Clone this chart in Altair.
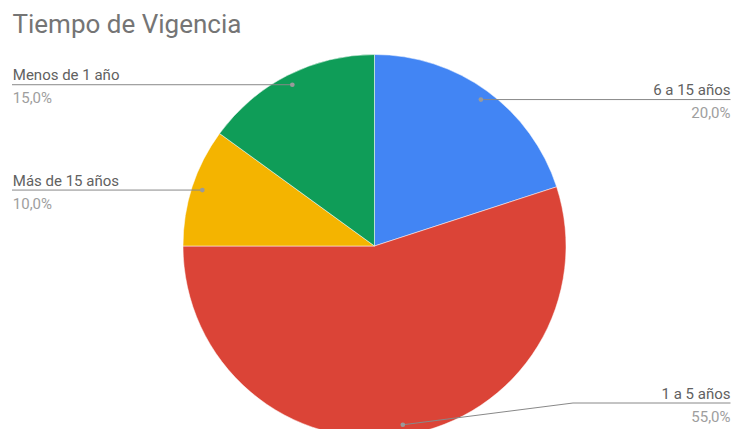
import altair as alt
import pandas as pd
import numpy as np

# ---- data ----
categories = ["6 a 15 años", "1 a 5 años", "Más de 15 años", "Menos de 1 año"]
values = [20.0, 55.0, 10.0, 15.0]
pct_labels = ["20,0%", "55,0%", "10,0%", "15,0%"]
colors = ["#4285F4", "#DB4437", "#F4B400", "#0F9D58"]
title_text = "Tiempo de Vigencia"

# ---- layout (chart pixel space; page adds an 8px margin) ----
W, H = 723, 421
CX, CY, R = 366.5, 238.0, 191.5
DOT_R = 181.0
LEFT_X, RIGHT_X = 4.0, 722.5
MAX_LABEL_Y = 395.0
FONT = "Roboto"

pie_df = pd.DataFrame({"category": categories, "value": values,
                       "order": list(range(len(categories)))})

total = sum(values)
lbl_rows, line_rows, dot_rows = [], [], []
cum = 0.0
for c, v, p in zip(categories, values, pct_labels):
    mid = (cum + v / 2) / total * 2 * np.pi
    cum += v
    dx = CX + DOT_R * np.sin(mid)
    dy = CY - DOT_R * np.cos(mid)
    right = np.sin(mid) >= 0
    ly = min(dy, MAX_LABEL_Y)
    ex = RIGHT_X if right else LEFT_X
    elbow_x = (CX + R + 7) if right else (CX - R - 7)
    if abs(ly - dy) < 0.5:
        pts = [(dx, dy), (ex, ly)]
    else:
        pts = [(dx, dy), (elbow_x, ly), (ex, ly)]
    for k, (px, py) in enumerate(pts):
        line_rows.append({"category": c, "seq": k, "x": px, "y": py})
    dot_rows.append({"category": c, "x": dx, "y": dy})
    lbl_rows.append({"category": c, "pct": p, "x": ex + (0 if right else 0.8),
                     "y1": ly - 4.5, "y2": ly + 18.5,
                     "align": "right" if right else "left"})

line_df = pd.DataFrame(line_rows)
dot_df = pd.DataFrame(dot_rows)
lbl_df = pd.DataFrame(lbl_rows)

xs = alt.Scale(domain=[0, W], range=[0, W], nice=False, zero=False)
ys = alt.Scale(domain=[0, H], range=[0, H], nice=False, zero=False)

pie = alt.Chart(pie_df).mark_arc(radius=R, stroke="#ffffff", strokeWidth=0.5).encode(
    theta=alt.Theta("value:Q", stack=True),
    color=alt.Color("category:N", scale=alt.Scale(domain=categories, range=colors), legend=None),
    order=alt.Order("order:Q"),
    x=alt.value(CX),
    y=alt.value(CY),
)

lines = alt.Chart(line_df).mark_line(color="#888888", strokeWidth=1).encode(
    x=alt.X("x:Q", scale=xs, axis=None),
    y=alt.Y("y:Q", scale=ys, axis=None),
    detail="category:N",
    order="seq:Q",
)

dots = alt.Chart(dot_df).mark_circle(color="#9a9a9a", opacity=1, size=22).encode(
    x=alt.X("x:Q", scale=xs, axis=None),
    y=alt.Y("y:Q", scale=ys, axis=None),
)

left_df = lbl_df[lbl_df["align"] == "left"]
right_df = lbl_df[lbl_df["align"] == "right"]


def text_layers(df, align):
    cat = alt.Chart(df).mark_text(align=align, baseline="alphabetic", font=FONT,
                                  fontSize=15, color="#616161").encode(
        x=alt.X("x:Q", scale=xs, axis=None),
        y=alt.Y("y1:Q", scale=ys, axis=None),
        text="category:N",
    )
    pct = alt.Chart(df).mark_text(align=align, baseline="alphabetic", font=FONT,
                                  fontSize=15, color="#9e9e9e").encode(
        x=alt.X("x:Q", scale=xs, axis=None),
        y=alt.Y("y2:Q", scale=ys, axis=None),
        text="pct:N",
    )
    return [cat, pct]


title = alt.Chart(pd.DataFrame({"t": [title_text]})).mark_text(
    align="left", baseline="alphabetic", font=FONT, fontSize=26, color="#757575"
).encode(x=alt.value(4.5), y=alt.value(25.3), text="t:N")

chart = alt.layer(
    pie, lines, dots, *text_layers(left_df, "left"), *text_layers(right_df, "right"), title
).properties(
    width=W, height=H, autosize=alt.AutoSizeParams(type="none"), padding=0
).configure_view(stroke=None)

chart.save("out.html", embed_options={"renderer": "svg", "actions": False})
